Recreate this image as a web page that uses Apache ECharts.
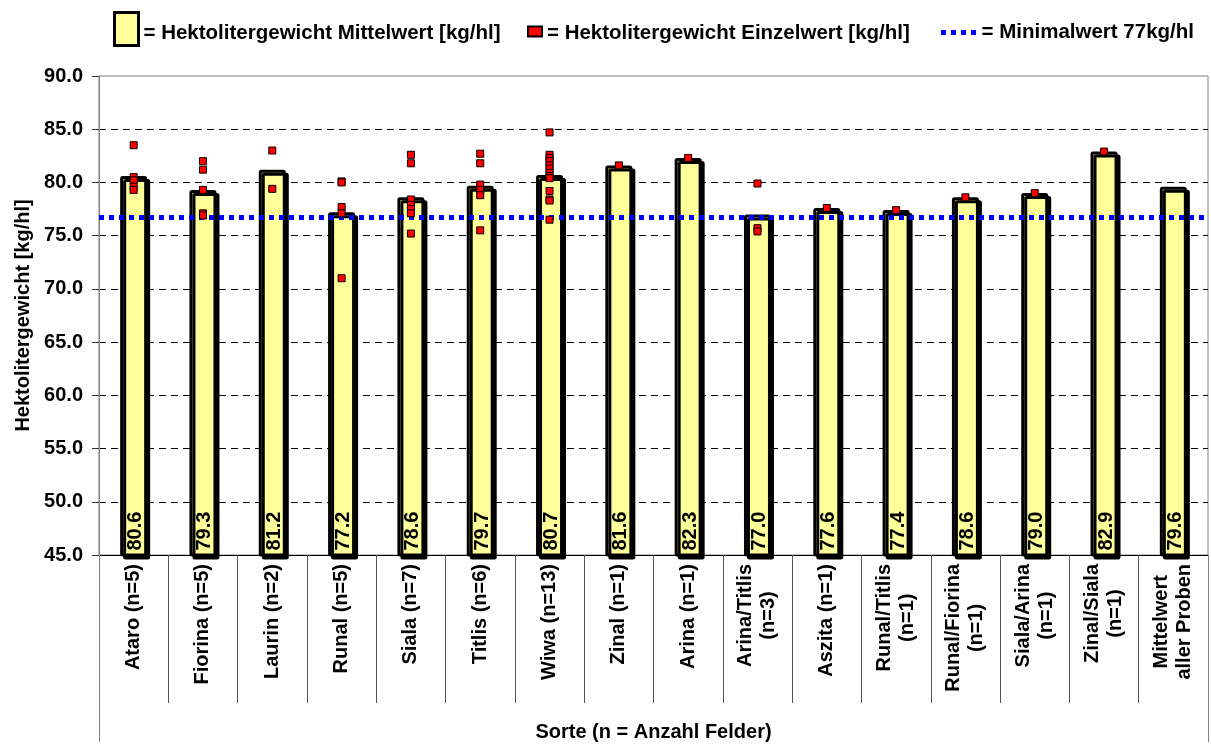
<!DOCTYPE html>
<html>
<head>
<meta charset="utf-8">
<script src="https://cdn.jsdelivr.net/npm/echarts@6/dist/echarts.min.js"></script>
<style>
html,body{margin:0;padding:0;background:#fff;}
#chart{width:1211px;height:747px;}
</style>
</head>
<body>
<div id="chart"></div>
<script>
// ---- data ----
const categories = [
  'Ataro (n=5)', 'Fiorina (n=5)', 'Laurin (n=2)', 'Runal (n=5)', 'Siala (n=7)',
  'Titlis (n=6)', 'Wiwa (n=13)', 'Zinal (n=1)', 'Arina (n=1)', 'Arina/Titlis\n(n=3)',
  'Aszita (n=1)', 'Runal/Titlis\n(n=1)', 'Runal/Fiorina\n(n=1)', 'Siala/Arina\n(n=1)',
  'Zinal/Siala\n(n=1)', 'Mittelwert\naller Proben'
];
const meanValues = [80.6, 79.3, 81.2, 77.2, 78.6, 79.7, 80.7, 81.6, 82.3, 77.0, 77.6, 77.4, 78.6, 79.0, 82.9, 79.6];

const ataroVals = [83.5, 80.5, 80.2, 79.6, 79.3];
const fiorinaVals = [82.0, 81.2, 79.3, 77.1, 76.9];
const laurinVals = [83.0, 79.4];
const runalVals = [80.1, 80.0, 77.7, 77.1, 71.0];
const sialaVals = [82.6, 81.8, 78.4, 77.9, 77.5, 77.1, 75.2];
const titlisVals = [82.7, 81.8, 79.8, 79.3, 78.8, 75.5];
const wiwaVals = [84.7, 82.6, 82.3, 82.0, 81.6, 81.3, 80.9, 80.6, 80.4, 79.2, 78.4, 78.3, 76.5];
const zinalVals = [81.6];
const arinaVals = [82.3];
const arinaTitlisVals = [79.9, 75.7, 75.4];
const aszitaVals = [77.6];
const runalTitlisVals = [77.4];
const runalFiorinaVals = [78.6];
const sialaArinaVals = [79.0];
const zinalSialaVals = [82.9];
const mittelwertVals = [];

const minimalValue = 76.7;
const yTicks = {min: 45, max: 90, interval: 5};

const meanName = 'Hektolitergewicht Mittelwert [kg/hl]';
const singleName = 'Hektolitergewicht Einzelwert [kg/hl]';
const minName = 'Minimalwert 77kg/hl';

// ---- build ----
const singleLists = [ataroVals, fiorinaVals, laurinVals, runalVals, sialaVals, titlisVals, wiwaVals,
  zinalVals, arinaVals, arinaTitlisVals, aszitaVals, runalTitlisVals, runalFiorinaVals,
  sialaArinaVals, zinalSialaVals, mittelwertVals];
const scatterData = [];
singleLists.forEach((list, i) => list.forEach(v => scatterData.push([i, v])));

const FONT = '"Liberation Sans", Arial, sans-serif';
const txt = (size) => ({fontFamily: FONT, fontSize: size, fontWeight: 'bold', color: '#000'});
const legendRich = (padTop) => ({t: Object.assign(txt(20.5), {padding: [padTop, 0, 0, 0]})});
const legendFmt = (name) => '{t|= ' + name + '}';

const chart = echarts.init(document.getElementById('chart'), null, {renderer: 'canvas'});
chart.setOption({
  animation: false,
  backgroundColor: '#fff',
  grid: {left: 99, right: 3, top: 76, bottom: 187, show: true, borderColor: '#808080', borderWidth: 1, containLabel: false},
  legend: [
    {data: [meanName], left: 113, top: 11, padding: 0, itemWidth: 24, itemHeight: 33, icon: 'rect',
     formatter: legendFmt, textStyle: Object.assign(txt(20.5), {rich: legendRich(8)}),
     itemStyle: {shadowColor: 'transparent', shadowOffsetX: 0, shadowOffsetY: 0, borderWidth: 3}, selectedMode: false},
    {data: [singleName], left: 527, top: 23, padding: 0, itemWidth: 14, itemHeight: 10, icon: 'rect',
     formatter: legendFmt, textStyle: Object.assign(txt(20.5), {rich: legendRich(4)}), selectedMode: false},
    {data: [minName], left: 941, top: 22, padding: 0, itemWidth: 36, itemHeight: 5,
     icon: 'path://M0,0h5v5h-5z M10,0h5v5h-5z M20,0h5v5h-5z M30,0h5v5h-5z',
     itemStyle: {color: '#0000FF', borderWidth: 0},
     formatter: legendFmt, textStyle: Object.assign(txt(20.5), {rich: legendRich(0)}), selectedMode: false}
  ],
  xAxis: [
    {
      type: 'category', data: categories, position: 'bottom',
      axisLine: {show: true, lineStyle: {color: '#000', width: 1}},
      axisTick: {show: true, length: 148, interval: 0, lineStyle: {color: '#555'}},
      axisLabel: {
        interval: 0, rotate: 90, margin: 9,
        formatter: (v) => v.split('\n').map(s => '{c|' + s + '}').join('\n'),
        rich: {c: Object.assign(txt(20), {align: 'center', lineHeight: 23})}
      },
      splitLine: {show: false}
    },
    {
      type: 'category', data: [''], position: 'bottom',
      axisLine: {show: false},
      axisTick: {show: true, length: 187, lineStyle: {color: '#808080'}},
      axisLabel: {show: false},
      splitLine: {show: false},
      name: 'Sorte (n = Anzahl Felder)', nameLocation: 'middle', nameGap: 167,
      nameTextStyle: txt(20)
    }
  ],
  yAxis: {
    type: 'value', min: yTicks.min, max: yTicks.max, interval: yTicks.interval,
    axisLine: {show: true, lineStyle: {color: '#808080', width: 1}},
    axisTick: {show: true, length: 7, lineStyle: {color: '#333'}},
    axisLabel: Object.assign(txt(20), {margin: 16, formatter: (v) => v.toFixed(1)}),
    splitLine: {show: true, showMinLine: false, showMaxLine: false, lineStyle: {color: '#000', type: [7, 5], width: 1}},
    name: 'Hektolitergewicht [kg/hl]', nameLocation: 'middle', nameGap: 66,
    nameTextStyle: txt(20)
  },
  series: [
    {
      name: meanName, type: 'bar', data: meanValues, barWidth: 27, z: 2,
      itemStyle: {color: '#FFFF99', borderColor: '#000', borderWidth: 3, borderRadius: 1,
        shadowColor: '#000', shadowBlur: 0, shadowOffsetX: 3, shadowOffsetY: 3},
      label: {show: true, position: 'insideBottom', rotate: 90, align: 'left', verticalAlign: 'middle',
        distance: 6, offset: [0, 2], formatter: (p) => p.value.toFixed(1), fontFamily: FONT, fontSize: 20, fontWeight: 'bold', color: '#000'}
    },
    {
      name: minName, type: 'line', data: [], symbol: 'none', showSymbol: false, z: 3,
      lineStyle: {color: '#0000FF', width: 5, type: [5, 5]},
      itemStyle: {color: '#0000FF'},
      markLine: {silent: true, symbol: ['none', 'none'], label: {show: false},
        lineStyle: {color: '#0000FF', width: 5, type: [5, 5]},
        data: [{yAxis: minimalValue}]}
    },
    {
      name: singleName, type: 'scatter', data: scatterData, symbol: 'rect', symbolSize: 7, z: 5,
      itemStyle: {color: '#FF0000', borderColor: '#000', borderWidth: 1, opacity: 1}
    }
  ]
});
</script>
</body>
</html>
